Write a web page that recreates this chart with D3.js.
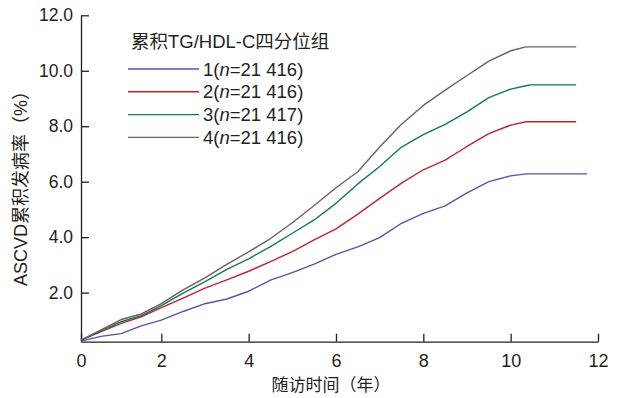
<!DOCTYPE html>
<html>
<head>
<meta charset="utf-8">
<script src="https://cdn.jsdelivr.net/npm/d3@7"></script>
<style>
  body { margin: 0; background: #fff; }
  svg { font-family: "Liberation Sans", Arial, "Noto Sans CJK SC", sans-serif; }
</style>
</head>
<body>
<svg id="chart" width="620" height="398"></svg>
<script>
// follow-up time (years), shared by all groups
var times = [0, 0.5, 1, 1.5, 2, 2.5, 3, 3.5, 4, 4.5, 5, 5.5, 6, 6.5, 7, 7.5, 8, 8.5, 9, 9.5, 10, 10.35, 10.45, 11.5, 11.75];

// cumulative ASCVD incidence (%) per quartile group
var q1 = [0.25, 0.42, 0.52, 0.80, 1.01, 1.32, 1.60, 1.77, 2.05, 2.45, 2.72, 3.03, 3.38, 3.65, 3.98, 4.50, 4.86, 5.13, 5.60, 6.00, 6.21, 6.28, 6.28, 6.28, 6.28];
var q2 = [0.29, 0.59, 0.89, 1.13, 1.46, 1.80, 2.16, 2.46, 2.77, 3.12, 3.48, 3.90, 4.30, 4.83, 5.40, 5.95, 6.43, 6.78, 7.27, 7.73, 8.04, 8.16, 8.16, 8.16, null];
var q3 = [0.29, 0.62, 0.95, 1.17, 1.53, 1.98, 2.40, 2.84, 3.22, 3.66, 4.14, 4.62, 5.22, 5.92, 6.55, 7.25, 7.70, 8.07, 8.52, 9.03, 9.34, 9.46, 9.49, 9.49, null];
var q4 = [0.29, 0.66, 1.03, 1.23, 1.60, 2.10, 2.53, 3.02, 3.47, 3.95, 4.52, 5.14, 5.78, 6.36, 7.25, 8.07, 8.75, 9.30, 9.83, 10.35, 10.72, 10.86, 10.86, 10.86, null];

var groupNames = ["1(n=21 416)", "2(n=21 416)", "3(n=21 417)", "4(n=21 416)"];
var groupColors = ["#5a51ab", "#bf2330", "#11775f", "#6c6159"];
var series = [q1, q2, q3, q4];

var xTicks = [0, 2, 4, 6, 8, 10, 12];
var yTicks = [2, 4, 6, 8, 10, 12];

var svg = d3.select("#chart");

var x = d3.scaleLinear().domain([0, 2, 12]).range([81, 161.3, 598]);
var y = d3.scaleLinear().domain([0.23, 12]).range([341.7, 15.3]);

var axisColor = "#231f20";

var xAxis = svg.append("g")
  .attr("transform", "translate(0," + y(0.23) + ")")
  .call(d3.axisBottom(x).tickValues(xTicks).tickFormat(d3.format("d"))
    .tickSizeInner(-8).tickSizeOuter(0).tickPadding(12.5));

var yAxis = svg.append("g")
  .attr("transform", "translate(" + x(0) + ",0)")
  .call(d3.axisLeft(y).tickValues(yTicks).tickFormat(d3.format(".1f"))
    .tickSizeInner(-8).tickSizeOuter(0).tickPadding(8));

[xAxis, yAxis].forEach(function (g) {
  g.select(".domain").attr("stroke", axisColor).attr("stroke-width", 1.3);
  g.selectAll(".tick line").attr("stroke", axisColor).attr("stroke-width", 1.3);
  g.selectAll(".tick text").attr("fill", "#231f20").style("font-size", "17.5px")
    .style("font-family", "'Liberation Sans', Arial, sans-serif");
});
xAxis.selectAll(".tick text").style("font-size", "18px");

var line = d3.line()
  .defined(function (d) { return d[1] !== null; })
  .x(function (d) { return x(d[0]); })
  .y(function (d) { return y(d[1]); });

series.forEach(function (vals, i) {
  svg.append("path")
    .datum(times.map(function (t, j) { return [t, vals[j]]; }))
    .attr("fill", "none")
    .attr("stroke", groupColors[i])
    .attr("stroke-width", 1.4)
    .attr("stroke-linejoin", "round")
    .attr("d", line);
});

// axis titles
svg.append("text")
  .attr("x", 331)
  .attr("y", 391)
  .attr("text-anchor", "middle")
  .style("font-size", "17px")
  .attr("fill", "#231f20")
  .text("随访时间（年）");

svg.append("text")
  .attr("transform", "translate(27,184) rotate(-90)")
  .attr("text-anchor", "middle")
  .style("font-size", "18px")
  .attr("fill", "#231f20")
  .text("ASCVD累积发病率（%）");

// legend
var legend = svg.append("g");
legend.append("text")
  .attr("x", 131)
  .attr("y", 48)
  .style("font-size", "18.5px")
  .attr("fill", "#231f20")
  .text("累积TG/HDL-C四分位组");

var ly = d3.scaleLinear().domain([0, 3]).range([69, 137.4]);
groupNames.forEach(function (name, i) {
  legend.append("line")
    .attr("x1", 128).attr("x2", 199)
    .attr("y1", ly(i)).attr("y2", ly(i))
    .attr("stroke", groupColors[i])
    .attr("stroke-width", 1.4);
  var t = legend.append("text")
    .attr("x", 203)
    .attr("y", ly(i))
    .attr("dy", "0.36em")
    .style("font-size", "18.5px")
    .attr("fill", "#231f20");
  var m = name.match(/^(\d\()n(=.*)$/);
  t.append("tspan").text(m[1]);
  t.append("tspan").style("font-style", "italic").text("n");
  t.append("tspan").text(m[2]);
});
</script>
</body>
</html>
